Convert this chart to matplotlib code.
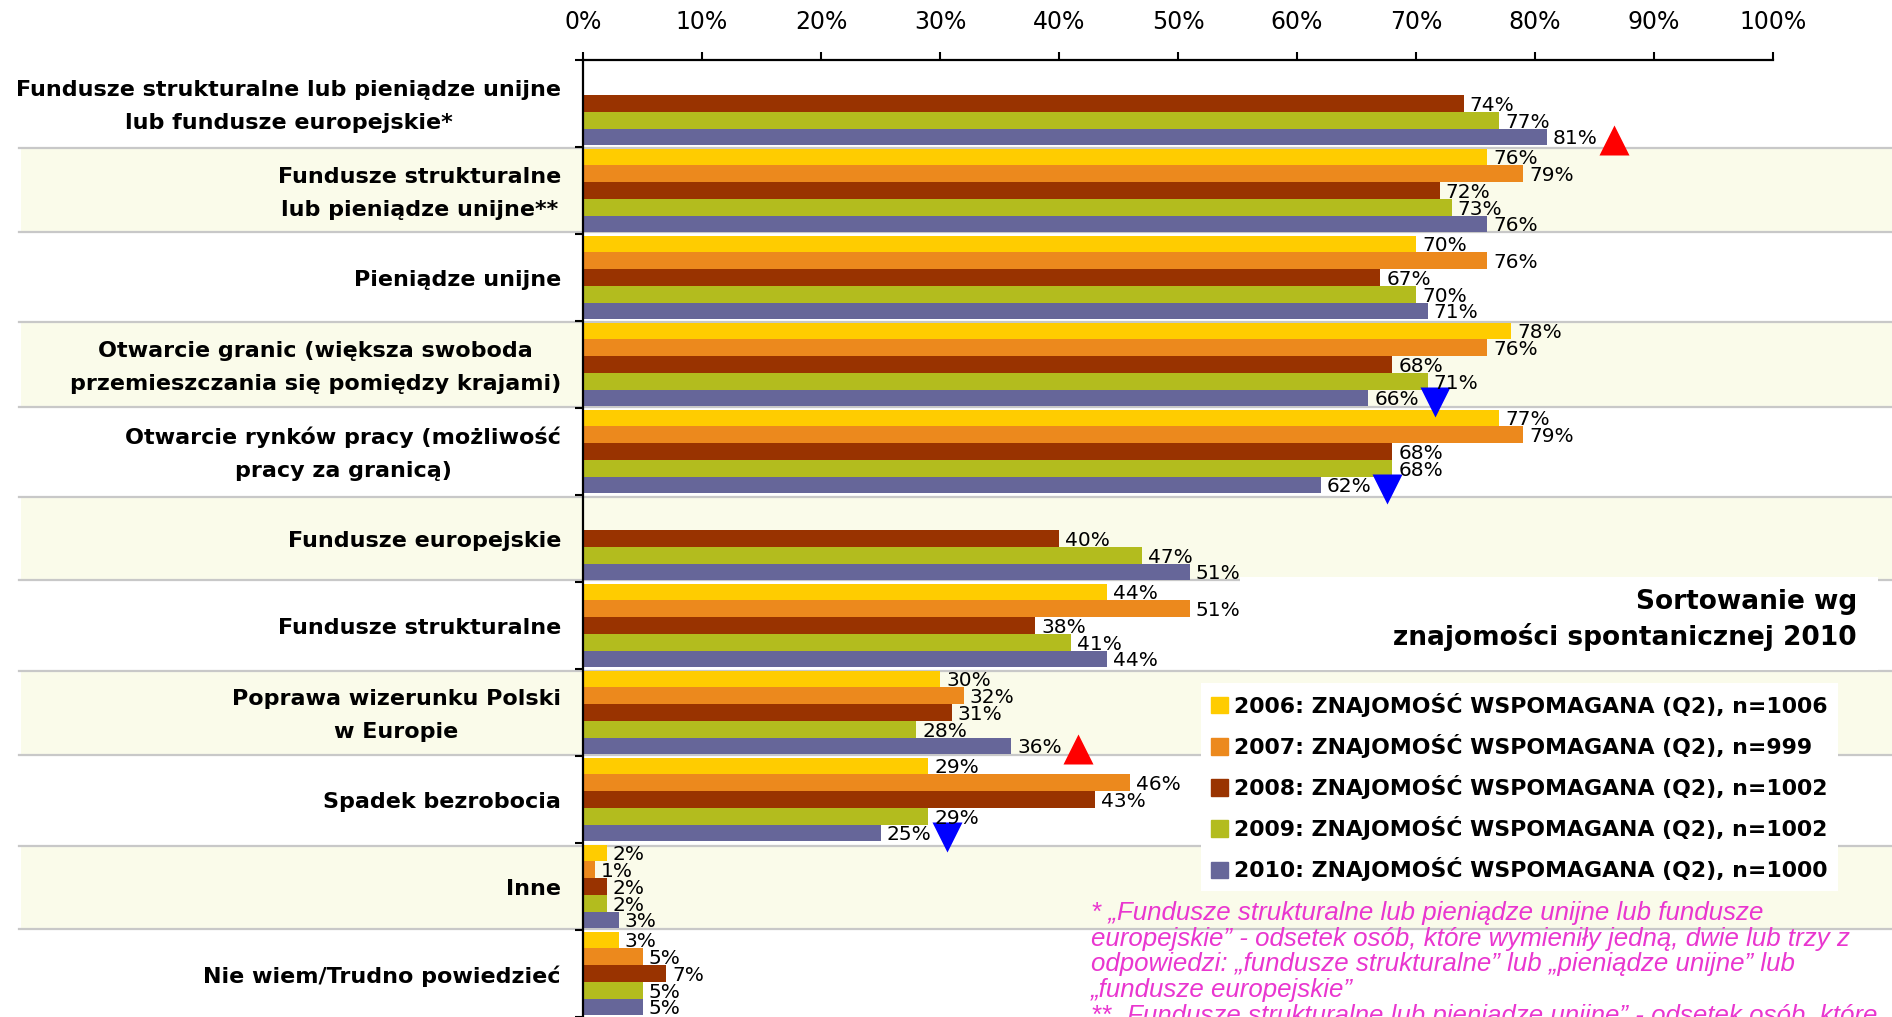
import matplotlib
matplotlib.use('Agg')
import matplotlib.pyplot as plt
from matplotlib.patches import Patch, Rectangle

# rows of the chart, top to bottom
categories = [
    'Fundusze strukturalne lub pieniądze unijne\nlub fundusze europejskie*',
    'Fundusze strukturalne\nlub pieniądze unijne**',
    'Pieniądze unijne',
    'Otwarcie granic (większa swoboda\nprzemieszczania się pomiędzy krajami)',
    'Otwarcie rynków pracy (możliwość\npracy za granicą)',
    'Fundusze europejskie',
    'Fundusze strukturalne',
    'Poprawa wizerunku Polski\nw Europie',
    'Spadek bezrobocia',
    'Inne',
    'Nie wiem/Trudno powiedzieć',
]
legend_labels = [
    '2006: ZNAJOMOŚĆ WSPOMAGANA (Q2), n=1006',
    '2007: ZNAJOMOŚĆ WSPOMAGANA (Q2), n=999',
    '2008: ZNAJOMOŚĆ WSPOMAGANA (Q2), n=1002',
    '2009: ZNAJOMOŚĆ WSPOMAGANA (Q2), n=1002',
    '2010: ZNAJOMOŚĆ WSPOMAGANA (Q2), n=1000',
]
v2006 = [None, 76, 70, 78, 77, None, 44, 30, 29, 2, 3]
v2007 = [None, 79, 76, 76, 79, None, 51, 32, 46, 1, 5]
v2008 = [74, 72, 67, 68, 68, 40, 38, 31, 43, 2, 7]
v2009 = [77, 73, 70, 71, 68, 47, 41, 28, 29, 2, 5]
v2010 = [81, 76, 71, 66, 62, 51, 44, 36, 25, 3, 5]
series = [v2006, v2007, v2008, v2009, v2010]
colors = ['#FFCC00', '#EC891D', '#993300', '#B3BC1E', '#666699']

# 2010 significant change markers (row index)
up_rows = [0, 7]
down_rows = [3, 4, 8]

xticks = list(range(0, 101, 10))

footnote = ('* „Fundusze strukturalne lub pieniądze unijne lub fundusze\n'
            'europejskie” - odsetek osób, które wymieniły jedną, dwie lub trzy z\n'
            'odpowiedzi: „fundusze strukturalne” lub „pieniądze unijne” lub\n'
            '„fundusze europejskie”\n'
            '** „Fundusze strukturalne lub pieniądze unijne” - odsetek osób, które')

W, H = 1892, 1017
fig = plt.figure(figsize=(W / 100, H / 100), dpi=100)

# background: table bands and separators, in pixel coords
bg = fig.add_axes([0, 0, 1, 1], zorder=0)
bg.set_xlim(0, W)
bg.set_ylim(H, 0)
bg.axis('off')
bands = [(148, 232), (322, 407), (497, 580), (671, 755), (846, 929)]
for top, bot in bands:
    bg.add_patch(Rectangle((21, top), W, bot - top, color='#FAFBEA', lw=0))
    bg.plot([19, W], [top, top], color='#C8C8C8', lw=1.6)
    bg.plot([19, W], [bot, bot], color='#C8C8C8', lw=1.6)
bg.add_patch(Rectangle((1240, 577), 1878 - 1240, 93, color='white', lw=0, zorder=3))

ax = fig.add_axes([583 / W, 0, (1773 - 583) / W, (H - 60) / H], zorder=1)
ax.patch.set_alpha(0)
n = len(categories)
h = 0.193
for k, vals in enumerate(series):
    for i, v in enumerate(vals):
        if v is None:
            continue
        y = i + (k - 2) * h
        ax.barh(y, v, height=h, color=colors[k], lw=0)
        ax.text(v + 0.5, y + 0.02, f'{v}%', ha='left', va='center', fontsize=14.5)

for i in up_rows:
    ax.plot(v2010[i] + 5.6, i + 2 * h + 0.03, marker='^', ms=21, color='#FF0000', mec='none', clip_on=False)
for i in down_rows:
    ax.plot(v2010[i] + 5.6, i + 2 * h + 0.04, marker='v', ms=21, color='#0000FF', mec='none', clip_on=False)

# category labels, right aligned next to the axis
ytrans = ax.get_yaxis_transform()
for i, lab in enumerate(categories):
    ax.text(-0.0185, i + 0.03, lab, transform=ytrans, ha='right', va='center',
            multialignment='center', fontsize=16, fontweight='bold', linespacing=1.8)

ax.set_xlim(0, 100)
ax.set_ylim(n - 0.5, -0.5)
ax.xaxis.tick_top()
ax.set_xticks(xticks, [f'{t}%' for t in xticks])
ax.tick_params(axis='x', length=6, width=1.5, pad=13, labelsize=17)
ax.set_yticks([])
ax.set_yticks([i - 0.5 for i in range(n + 1)], minor=True)
ax.tick_params(axis='y', which='minor', length=6, width=1.5, labelleft=False)
for s in ['right', 'bottom']:
    ax.spines[s].set_visible(False)
for s in ['left', 'top']:
    ax.spines[s].set_linewidth(1.6)

handles = [Patch(color=c) for c in colors]
fig.legend(handles, legend_labels, loc='upper left', bbox_to_anchor=(1201 / W, 1 - 683 / H),
           frameon=True, facecolor='white', edgecolor='none', framealpha=1, fancybox=False,
           borderpad=0.45, borderaxespad=0, handlelength=0.77, handleheight=0.77,
           handletextpad=0.3, labelspacing=0.78, prop={'weight': 'bold', 'size': 15.8})

fig.text(1857 / W, 1 - 620 / H, 'Sortowanie wg\nznajomości spontanicznej 2010',
         ha='right', va='center', multialignment='right', fontsize=19,
         fontweight='bold', linespacing=1.4, zorder=5)

fig.text(1091 / W, 1 - 901 / H, footnote, ha='left', va='top', fontsize=18.6,
         style='italic', color='#E936CF', family='Liberation Sans', linespacing=1.09)

fig.savefig('out.png', dpi=100)
